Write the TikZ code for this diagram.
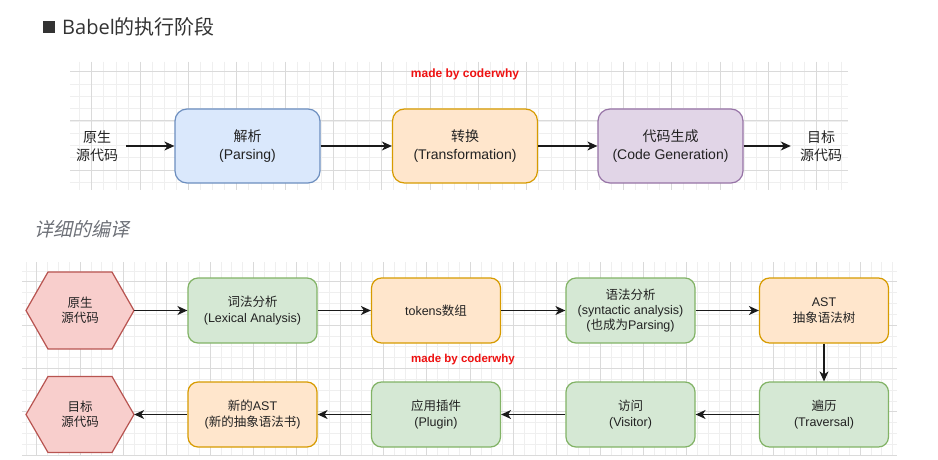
\documentclass[tikz,border=0pt]{standalone}
\usepackage{fontspec}
\setmainfont{Liberation Sans}
\newfontfamily\cjkfont{Noto Sans CJK SC}
\newfontfamily\cjkslant[FakeSlant=0.22]{Noto Sans CJK SC}
\newfontfamily\titlefont{Open Sans}
\newcommand\zh[1]{{\cjkfont #1}}
\usetikzlibrary{arrows.meta}
\definecolor{gminorc}{HTML}{EFEFEF}
\definecolor{gmajorc}{HTML}{DADADA}
\definecolor{txt}{HTML}{222222}
\definecolor{titlec}{HTML}{333333}
\definecolor{bluef}{HTML}{DAE8FC}\definecolor{blued}{HTML}{6C8EBF}
\definecolor{orangef}{HTML}{FFE6CC}\definecolor{oranged}{HTML}{D79B00}
\definecolor{purplef}{HTML}{E1D5E7}\definecolor{purpled}{HTML}{9673A6}
\definecolor{greenf}{HTML}{D5E8D4}\definecolor{greend}{HTML}{82B366}
\definecolor{redf}{HTML}{F8CECC}\definecolor{redd}{HTML}{B85450}
\definecolor{mark}{HTML}{EE1111}
\definecolor{subc}{HTML}{6E7178}
\definecolor{arr}{HTML}{1A1A1A}
\tikzset{
  gminor/.style={draw=gminorc, line width=0.6pt},
  gmajor/.style={draw=gmajorc, line width=0.7pt},
  bigbox/.style={rounded corners=12pt, line width=1.2pt, minimum width=145pt, minimum height=74pt,
    align=center, text=txt, font=\fontsize{14}{17.5}\selectfont},
  smallbox/.style={rounded corners=10pt, line width=1.2pt, minimum width=129pt, minimum height=65pt,
    align=center, text=txt, font=\fontsize{12.5}{15.3}\selectfont},
  bluebox/.style={bigbox, fill=bluef, draw=blued},
  obox/.style={bigbox, fill=orangef, draw=oranged},
  pbox/.style={bigbox, fill=purplef, draw=purpled},
  gsbox/.style={smallbox, fill=greenf, draw=greend},
  osbox/.style={smallbox, fill=orangef, draw=oranged},
  hexnode/.style={minimum width=108pt, minimum height=77pt, inner sep=0pt, align=center, text=txt,
    font=\fontsize{12.5}{15.3}\selectfont},
  hexshape/.style={fill=redf, draw=redd, line width=1.2pt, line join=miter},
  plain/.style={align=center, text=txt, font=\fontsize{14}{17.5}\selectfont, inner ysep=2pt},
  conn/.style={draw=arr, line width=1.2pt, -{Stealth[length=10pt,width=9pt,inset=3pt]}},
  marktext/.style={text=mark, font=\bfseries\fontsize{12}{14}\selectfont, inner sep=0pt},
}
\begin{document}
\begin{tikzpicture}[x=1pt,y=-1pt]
\fill[white] (0,0) rectangle (938,460);
\useasboundingbox (0,0) rectangle (938,460);
% top grid
\begin{scope}
\clip (70,62) rectangle (848,190);
\foreach \k in {-2,...,66} \draw[gminor] ({91.7+12.083*\k},62) -- ++(0,128);
\foreach \k in {-2,...,12} \draw[gminor] (70,{71.7+12.29*\k}) -- ++(778,0);
\foreach \k in {-1,...,16} \draw[gmajor] ({91.7+48.33*\k},62) -- ++(0,128);
\foreach \k in {-1,...,3} \draw[gmajor] (70,{71.7+49.15*\k}) -- ++(778,0);
\end{scope}
% bottom grid
\begin{scope}
\clip (22,262) rectangle (897,456);
\foreach \k in {-2,...,82} \draw[gminor] ({36.7+10.833*\k},262) -- ++(0,194);
\foreach \k in {-2,...,18} \draw[gminor] (22,{281.7+10.833*\k}) -- ++(875,0);
\foreach \k in {-1,...,21} \draw[gmajor] ({36.7+43.33*\k},262) -- ++(0,194);
\foreach \k in {-1,...,5} \draw[gmajor] (22,{281.7+43.33*\k}) -- ++(875,0);
\end{scope}
% titles
\node[fill=titlec, minimum size=12pt, inner sep=0pt] (sq) at (49,27) {};
\node[anchor=west, inner sep=0pt, text=titlec, font=\titlefont\fontsize{20}{24}\selectfont] (title) at (62,27) {Babel\zh{的执行阶段}};
\node[anchor=west, inner sep=0pt, text=subc, font=\cjkslant\fontsize{19}{22}\selectfont] (sub) at (34,229) {详细的编译};
% top row
\node[marktext] (mark1) at (465,74) {made by coderwhy};
\node[plain, inner xsep=8pt] (in) at (97,146) {\zh{原生}\\\zh{源代码}};
\node[bluebox] (parse) at (247.5,146) {\zh{解析}\\(Parsing)};
\node[obox] (trans) at (465,146) {\zh{转换}\\(Transformation)};
\node[pbox] (gen) at (670.5,146) {\zh{代码生成}\\(Code Generation)};
\node[plain, inner xsep=9pt] (out) at (821,146) {\zh{目标}\\\zh{源代码}};
\draw[conn] (in) -- (parse);
\draw[conn] (parse) -- (trans);
\draw[conn] (trans) -- (gen);
\draw[conn] (gen) -- (out);
% bottom rows
\coordinate (srcc) at (80,310.5);
\coordinate (dstc) at (80,414.5);
\draw[hexshape] ([xshift=-54pt]srcc) -- ++(22,-38.5) -- ++(64,0) -- ++(22,38.5) -- ++(-22,38.5) -- ++(-64,0) -- cycle;
\draw[hexshape] ([xshift=-54pt]dstc) -- ++(22,-38) -- ++(64,0) -- ++(22,38) -- ++(-22,38) -- ++(-64,0) -- cycle;
\node[hexnode] (src) at (srcc) {\zh{原生}\\\zh{源代码}};
\node[hexnode] (dst) at (dstc) {\zh{目标}\\\zh{源代码}};
\node[gsbox] (lex) at (252.5,310.5) {\zh{词法分析}\\(Lexical Analysis)};
\node[osbox] (tok) at (436,310.5) {tokens\zh{数组}};
\node[gsbox] (syn) at (630.5,310.5) {\zh{语法分析}\\(syntactic analysis)\\(\zh{也成为}Parsing)};
\node[osbox] (ast) at (824,310.5) {AST\\\zh{抽象语法树}};
\node[gsbox] (trav) at (824,414.5) {\zh{遍历}\\(Traversal)};
\node[gsbox] (visit) at (630.5,414.5) {\zh{访问}\\(Visitor)};
\node[gsbox] (plug) at (436,414.5) {\zh{应用插件}\\(Plugin)};
\node[osbox] (newast) at (252.5,414.5) {\zh{新的}AST\\(\zh{新的抽象语法书})};
\node[marktext, font=\bfseries\fontsize{11.5}{14}\selectfont] (mark2) at (463,360) {made by coderwhy};
\draw[conn] (src) -- (lex);
\draw[conn] (lex) -- (tok);
\draw[conn] (tok) -- (syn);
\draw[conn] (syn) -- (ast);
\draw[conn] (ast) -- (trav);
\draw[conn] (trav) -- (visit);
\draw[conn] (visit) -- (plug);
\draw[conn] (plug) -- (newast);
\draw[conn] (newast) -- (dst);
\end{tikzpicture}
\end{document}
